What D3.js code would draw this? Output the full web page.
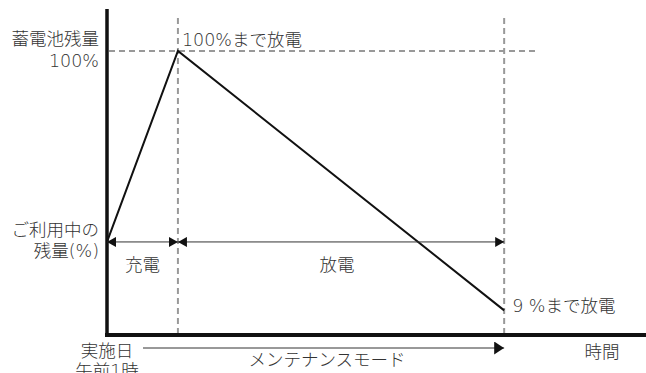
<!DOCTYPE html>
<html>
<head>
<meta charset="utf-8">
<script src="https://cdn.jsdelivr.net/npm/d3@7"></script>
<style>
  body { margin: 0; background: #fff; }
  svg text { font-family: "DejaVu Sans", "Noto Sans CJK JP", sans-serif; font-weight: 300; fill: #333; font-size: 17.5px; }
</style>
</head>
<body>
<div id="chart"></div>
<script>
// データ:時間(任意単位)と蓄電池残量(%)
const times = [0, 1, 5.6];
const levels = [33, 100, 9];
const phases = ["充電", "放電"];
const leftLabels = [["蓄電池残量", "100%"], ["ご利用中の", "残量(%)"]];
const pointLabels = ["100%まで放電", "9 %まで放電"];
const modeLabel = "メンテナンスモード";
const dateLabels = ["実施日", "午前1時"];
const axisLabel = "時間";

const W = 646, H = 373;

const svg = d3.select("#chart").append("svg")
  .attr("width", W).attr("height", H);

// スケール
const x = d3.scaleLinear().domain([0, 7.6]).range([107, 646]);
const y = d3.scaleLinear().domain([0, 100]).range([336, 51]);

const defs = svg.append("defs");
function marker(id, w, h) {
  defs.append("marker")
    .attr("id", id)
    .attr("viewBox", `0 0 ${w} ${h}`)
    .attr("refX", w).attr("refY", h / 2)
    .attr("markerWidth", w).attr("markerHeight", h)
    .attr("markerUnits", "userSpaceOnUse")
    .attr("orient", "auto-start-reverse")
    .append("path")
    .attr("d", `M0,0L${w},${h / 2}L0,${h}Z`)
    .attr("fill", "#111");
}
marker("arr", 9, 10);
marker("arrBig", 10, 13);

// 補助の破線
const dash = svg.append("g")
  .attr("stroke", "#999").attr("stroke-width", 2)
  .attr("stroke-dasharray", "6,4").attr("fill", "none");

dash.append("line")
  .attr("x1", x(0) + 2).attr("x2", 538)
  .attr("y1", y(100)).attr("y2", y(100));

[times[1], times[2]].forEach(t => {
  dash.append("line")
    .attr("x1", x(t)).attr("x2", x(t))
    .attr("y1", 18).attr("y2", y(0) - 2);
});

// 軸
svg.append("g")
  .attr("transform", `translate(0,${y(0) - 1})`)
  .call(d3.axisBottom(x).tickValues([]).tickSizeOuter(0))
  .select(".domain").attr("stroke", "#111").attr("stroke-width", 4)
  .attr("d", `M${x(0) - 2},0H${W}`);

svg.append("g")
  .attr("transform", `translate(${x(0)},0)`)
  .call(d3.axisLeft(y).tickValues([]).tickSizeOuter(0))
  .select(".domain").attr("stroke", "#111").attr("stroke-width", 3.5)
  .attr("d", `M0,9V${y(0) + 1}`);

// 残量の折れ線
const line = d3.line().x((d, i) => x(times[i])).y(d => y(d));
svg.append("path")
  .datum(levels)
  .attr("d", line)
  .attr("fill", "none")
  .attr("stroke", "#111")
  .attr("stroke-width", 2);

// 期間の矢印
const arrowY = y(levels[0]);
phases.forEach((p, i) => {
  svg.append("line")
    .attr("x1", x(times[i])).attr("x2", x(times[i + 1]))
    .attr("y1", arrowY).attr("y2", arrowY)
    .attr("stroke", "#333").attr("stroke-width", 1)
    .attr("marker-start", "url(#arr)")
    .attr("marker-end", "url(#arr)");
  svg.append("text")
    .attr("x", (x(times[i]) + x(times[i + 1])) / 2 + (i === 0 ? 0 : -4))
    .attr("y", arrowY + 29)
    .attr("text-anchor", "middle")
    .text(p);
});

// メンテナンスモードの矢印
svg.append("line")
  .attr("x1", 143).attr("x2", x(times[2]))
  .attr("y1", 348).attr("y2", 348)
  .attr("stroke", "#333").attr("stroke-width", 1)
  .attr("marker-end", "url(#arrBig)");
svg.append("text")
  .attr("x", 327).attr("y", 366)
  .attr("text-anchor", "middle")
  .text(modeLabel);

// 左側のラベル
[y(100), y(levels[0])].forEach((yy, i) => {
  const base = i === 0 ? [-6, 16] : [-6, 15];
  leftLabels[i].forEach((s, j) => {
    svg.append("text")
      .attr("x", 99).attr("y", yy + base[j])
      .attr("text-anchor", "end")
      .text(s);
  });
});

// 点のラベル
svg.append("text")
  .attr("x", x(times[1]) + 4).attr("y", y(100) - 5)
  .text(pointLabels[0]);
svg.append("text")
  .attr("x", x(times[2]) + 8).attr("y", y(levels[2]) + 2)
  .text(pointLabels[1]);

// 実施日
dateLabels.forEach((s, j) => {
  svg.append("text")
    .attr("x", x(0)).attr("y", 357 + j * 20)
    .attr("text-anchor", "middle")
    .text(s);
});

svg.append("text")
  .attr("x", 602).attr("y", 358)
  .attr("text-anchor", "middle")
  .text(axisLabel);
</script>
</body>
</html>
